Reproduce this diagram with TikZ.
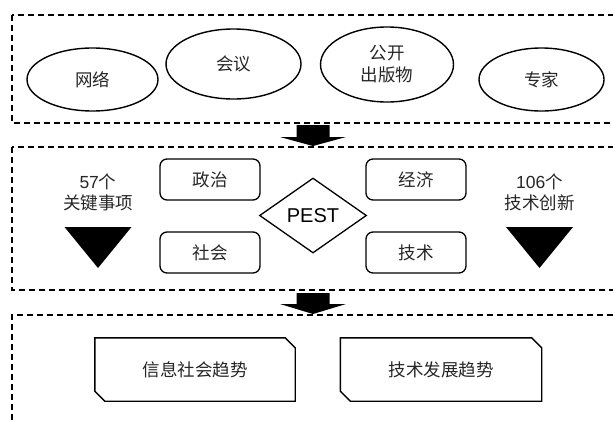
\documentclass[tikz,border=0pt]{standalone}
\usepackage{fontspec}
\setmainfont{Liberation Sans}
\newfontfamily\cjk{Noto Sans CJK SC}
\usetikzlibrary{shapes.geometric,calc}
\begin{document}
\begin{tikzpicture}[x=1pt,y=-1pt,
  grp/.style={draw, line width=1.1pt, dash pattern=on 6pt off 4pt},
  src/.style={draw, ellipse, line width=1.4pt, inner sep=0pt, align=center,
    text=black!85, font=\cjk\fontsize{17.5}{22}\selectfont},
  cat/.style={draw, rounded corners=7pt, line width=1.3pt, minimum width=100pt,
    minimum height=41pt, inner sep=0pt, text=black!85, font=\cjk\fontsize{17.5}{20}\selectfont},
  pest/.style={draw, diamond, line width=1.3pt, minimum width=107pt,
    minimum height=75pt, inner sep=0pt, font=\fontsize{20}{24}\selectfont},
  cnt/.style={align=center, inner sep=0pt, text=black!85, font=\fontsize{17.5}{21}\selectfont},
  trend/.style={minimum width=200pt, minimum height=63pt, inner sep=0pt,
    text=black!85, font=\cjk\fontsize{17.5}{20}\selectfont},
  trendline/.style={draw, line width=1.4pt, line join=miter},
  blk/.style={fill=black}
]
\useasboundingbox (0,0) rectangle (613,421);
% group frames
\draw[grp] (12,15) rectangle (625,123);
\draw[grp] (12,147) rectangle (625,290);
\draw[grp] (12,430) -- (12,315) -- (625,315);

% sources
\node[src, minimum width=131pt, minimum height=63pt] (net) at (92.5,79.5) {网络};
\node[src, minimum width=135pt, minimum height=70pt] (meet) at (233.5,64) {会议};
\node[src, minimum width=133pt, minimum height=75pt] (pub) at (387,64.5) {公开\\出版物};
\node[src, minimum width=125pt, minimum height=63pt] (exp) at (541.5,79.5) {专家};

% block arrow 1
\coordinate (a1) at (313,146);
\fill[blk] ($(a1)+(-16.5,-21)$) -- ($(a1)+(16.5,-21)$) -- ($(a1)+(16.5,-9)$)
  -- ($(a1)+(33,-9)$) -- (a1) -- ($(a1)+(-33,-9)$) -- ($(a1)+(-16.5,-9)$) -- cycle;

% PEST
\node[cat] (pol) at (210,179.5) {政治};
\node[cat] (soc) at (210,252.5) {社会};
\node[cat] (eco) at (416,179.5) {经济};
\node[cat] (tec) at (416,252.5) {技术};
\node[pest] (p) at (313,215.5) {PEST};

\node[cnt] (k57) at (98,192) {57{\cjk 个}\\{\cjk 关键事项}};
\node[cnt] (k106) at (539.5,192) {106{\cjk 个}\\{\cjk 技术创新}};
\coordinate (t1) at (98,268);
\fill[blk] (t1) -- ($(t1)+(-33.5,-41)$) -- ($(t1)+(33.5,-41)$) -- cycle;
\coordinate (t2) at (539.5,268);
\fill[blk] (t2) -- ($(t2)+(-33.5,-41)$) -- ($(t2)+(33.5,-41)$) -- cycle;

% block arrow 2
\coordinate (a2) at (313,314);
\fill[blk] ($(a2)+(-16.5,-21)$) -- ($(a2)+(16.5,-21)$) -- ($(a2)+(16.5,-10)$)
  -- ($(a2)+(33,-10)$) -- (a2) -- ($(a2)+(-33,-10)$) -- ($(a2)+(-16.5,-10)$) -- cycle;

% trends
\node[trend] (tr1) at (195,369.5) {信息社会趋势};
\node[trend, minimum width=201pt] (tr2) at (441,369.5) {技术发展趋势};
\foreach \n in {tr1,tr2}{
  \draw[trendline] (\n.north west) -- ($(\n.north east)+(-10,0)$)
    -- ($(\n.north east)+(0,10)$) -- (\n.south east)
    -- ($(\n.south west)+(10,0)$) -- ($(\n.south west)+(0,-10)$) -- cycle;
}
\end{tikzpicture}
\end{document}
